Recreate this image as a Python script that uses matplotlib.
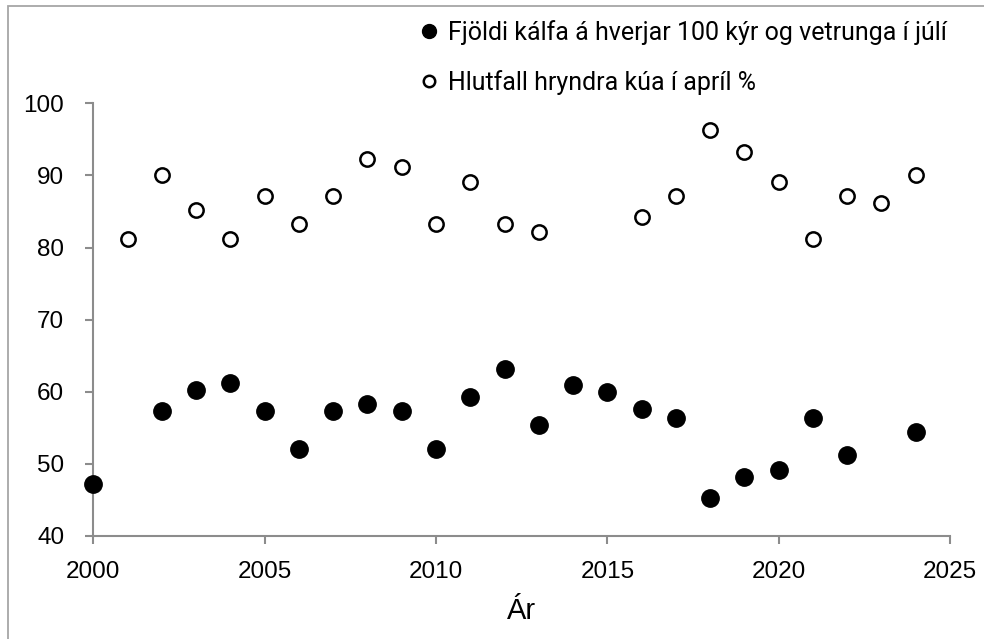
import matplotlib
matplotlib.use("Agg")
import matplotlib.pyplot as plt
from matplotlib.patches import Rectangle

# --------------------------------------------------
# DATA
# --------------------------------------------------
years_calves = [2000, 2002, 2003, 2004, 2005, 2006, 2007, 2008, 2009, 2010,
                2011, 2012, 2013, 2014, 2015, 2016, 2017, 2018, 2019, 2020,
                2021, 2022, 2024]
calves = [47.2, 57.3, 60.3, 61.2, 57.3, 52.1, 57.3, 58.3, 57.3, 52.1,
          59.3, 63.2, 55.4, 61.0, 60.0, 57.6, 56.3, 45.2, 48.2, 49.2,
          56.3, 51.2, 54.4]

years_calved = [2001, 2002, 2003, 2004, 2005, 2006, 2007, 2008, 2009, 2010,
                2011, 2012, 2013, 2016, 2017, 2018, 2019, 2020, 2021, 2022,
                2023, 2024]
calved_pct = [81.2, 90.1, 85.2, 81.2, 87.2, 83.2, 87.2, 92.3, 91.1, 83.2,
              89.1, 83.2, 82.2, 84.2, 87.2, 96.3, 93.3, 89.1, 81.2, 87.2,
              86.2, 90.1]

label_calves = "Fjöldi kálfa á hverjar 100 kýr og vetrunga í júlí"
label_calved = "Hlutfall hryndra kúa í apríl %"

xticks = [2000, 2005, 2010, 2015, 2020, 2025]
yticks = [40, 50, 60, 70, 80, 90, 100]

AXIS_GREY = "#8c8c8c"

# --------------------------------------------------
# FIGURE
# --------------------------------------------------
plt.rcParams["font.family"] = ["Liberation Sans", "DejaVu Sans"]

fig = plt.figure(figsize=(9.84, 6.39), dpi=100)
ax = fig.add_axes([93.3 / 984, 1 - 536 / 639, (950 - 93.3) / 984, (536 - 103.3) / 639])

# outer frame (only top / left visible in the reference)
fig.patches.append(Rectangle((8 / 984, -0.1), 1.2, 1 - 6 / 639 + 0.1,
                             transform=fig.transFigure, fill=False,
                             edgecolor="#a6a6a6", linewidth=1.3))

h1, = ax.plot(years_calves, calves, linestyle="none", marker="o",
              markersize=12.5, color="black", clip_on=False, zorder=3)
h2, = ax.plot(years_calved, calved_pct, linestyle="none", marker="o",
              markersize=10.3, markerfacecolor="white", markeredgecolor="black",
              markeredgewidth=1.8, clip_on=False, zorder=3)

ax.set_xlim(2000, 2025)
ax.set_ylim(40, 100)
ax.set_xticks(xticks)
ax.set_yticks(yticks)

for side in ["top", "right"]:
    ax.spines[side].set_visible(False)
for side in ["left", "bottom"]:
    ax.spines[side].set_color(AXIS_GREY)
    ax.spines[side].set_linewidth(1.5)

ax.tick_params(axis="both", direction="out", length=6, width=1.5,
               color=AXIS_GREY, labelsize=17.5, labelcolor="black")
ax.tick_params(axis="y", pad=15)
ax.tick_params(axis="x", pad=12)

ax.set_xlabel("Ár", fontsize=21, labelpad=10)

fig.legend([h1, h2], [label_calves, label_calved],
           loc="upper left", bbox_to_anchor=(410 / 984, 1 - 10 / 639),
           frameon=False, prop={"family": "Roboto", "size": 18},
           markerscale=0.8, handlelength=0.75, handletextpad=0.35,
           labelspacing=1.0, borderaxespad=0)

fig.savefig("out.png", dpi=100)
